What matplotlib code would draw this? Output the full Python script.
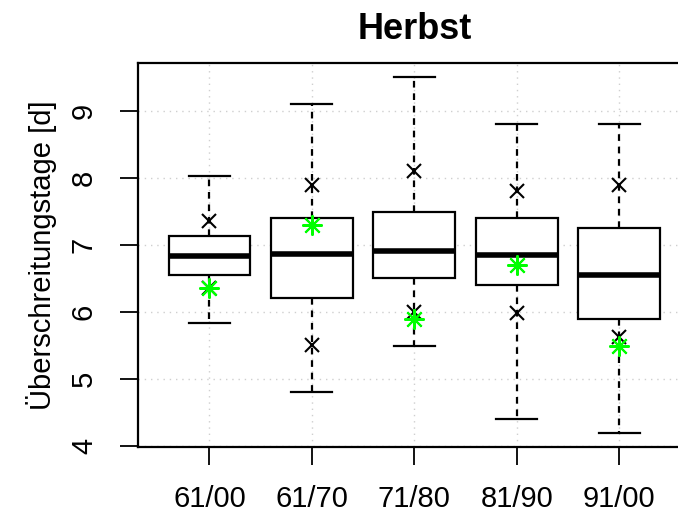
import matplotlib
matplotlib.use("Agg")
import matplotlib.pyplot as plt
import numpy as np

plt.rcParams['font.family'] = ['Liberation Sans', 'DejaVu Sans']

categories = ["61/00", "61/70", "71/80", "81/90", "91/00"]
whisker_low = [5.83, 4.80, 5.50, 4.40, 4.20]
q1 = [6.55, 6.21, 6.51, 6.40, 5.90]
median = [6.83, 6.86, 6.91, 6.85, 6.55]
q3 = [7.13, 7.40, 7.50, 7.40, 7.25]
whisker_high = [8.03, 9.10, 9.51, 8.80, 8.80]
cross_high = [7.36, 7.90, 8.10, 7.80, 7.90]
cross_low = [6.36, 5.51, 6.00, 5.99, 5.63]
green_star = [6.36, 7.30, 5.89, 6.70, 5.50]
yticks = [4, 5, 6, 7, 8, 9]

W, H = 678, 521
fig = plt.figure(figsize=(W / 100, H / 100), dpi=100)
left_px, right_px, top_px, bottom_px = 137.8, 690.7, 62.7, 446.9
ax = fig.add_axes([left_px / W, 1 - bottom_px / H,
                   (right_px - left_px) / W, (bottom_px - top_px) / H])

pos = np.arange(1, len(categories) + 1)
stats = []
for i in range(len(categories)):
    stats.append(dict(med=median[i], q1=q1[i], q3=q3[i],
                      whislo=whisker_low[i], whishi=whisker_high[i],
                      fliers=[], label=categories[i]))

# grid
for y in yticks:
    ax.axhline(y, color='#cfcfcf', lw=1.0, ls=(0, (1, 3.5)), zorder=0)
for x in pos:
    ax.axvline(x, color='#cfcfcf', lw=1.0, ls=(0, (1, 3.5)), zorder=0)

ax.bxp(stats, positions=pos, widths=0.8, showfliers=False, patch_artist=True,
       boxprops=dict(facecolor='white', edgecolor='black', linewidth=1.6),
       medianprops=dict(color='black', linewidth=4.0, solid_capstyle='butt'),
       whiskerprops=dict(color='black', linewidth=1.6, linestyle=(0, (3, 2.6))),
       capprops=dict(color='black', linewidth=1.6),
       capwidths=0.4, manage_ticks=False, zorder=2)

ax.plot(pos, cross_high, ls='none', marker='x', ms=10.5, mew=1.5,
        color='black', zorder=3)
ax.plot(pos, cross_low, ls='none', marker='x', ms=10.5, mew=1.5,
        color='black', zorder=3)
ax.plot(pos, green_star, ls='none', marker=(8, 2, 0), ms=14.5, mew=1.5,
        color='#00ff00', zorder=4)

ax.set_xlim(0.3, 5.7)
ax.set_ylim(3.988, 9.722)
ax.set_xticks(pos)
ax.set_xticklabels(categories, fontsize=21)
ax.set_yticks(yticks)
ax.set_yticklabels([str(v) for v in yticks], fontsize=21, rotation=90,
                   va='center')
ax.tick_params(axis='both', direction='out', length=12.7, width=1.3,
               color='black')
ax.tick_params(axis='x', pad=14.5)
ax.tick_params(axis='y', pad=16)
for s in ax.spines.values():
    s.set_linewidth(1.6)

ax.set_ylabel("Überschreitungstage [d]", fontsize=21, labelpad=9)
ax.set_title("Herbst", fontsize=26, fontweight='bold', pad=17,
             x=(414.5 - left_px) / (right_px - left_px))

fig.savefig("out.png", dpi=100)
